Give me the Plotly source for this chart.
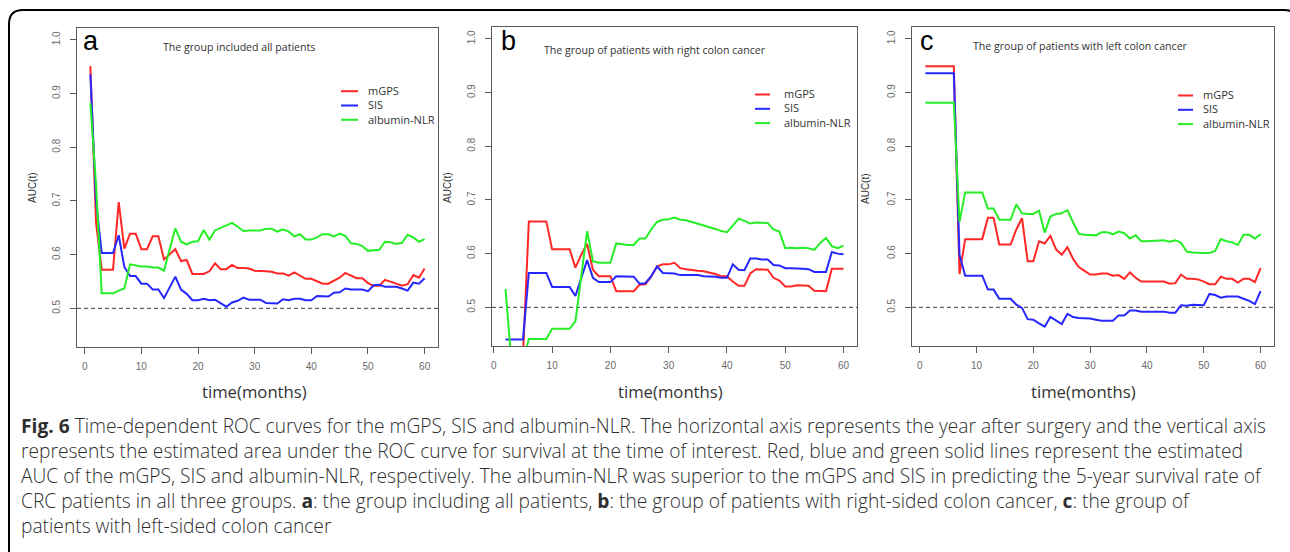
import plotly.graph_objects as go

W, H = 1290, 552

def X(p):
    return p / W

def Y(p):
    return 1 - p / H

# ---------------- data ----------------
months_a = list(range(1, 61))
months_b = list(range(2, 61))
months_c = list(range(1, 61))

a_mgps = [0.951, 0.660, 0.572, 0.572, 0.572, 0.698, 0.611, 0.639, 0.639, 0.610,
          0.610, 0.634, 0.634, 0.591, 0.601, 0.610, 0.588, 0.590, 0.564, 0.564,
          0.564, 0.569, 0.584, 0.573, 0.573, 0.581, 0.575, 0.575, 0.574, 0.570,
          0.570, 0.569, 0.568, 0.565, 0.565, 0.561, 0.567, 0.561, 0.555, 0.555,
          0.551, 0.546, 0.546, 0.551, 0.557, 0.566, 0.561, 0.556, 0.556, 0.547,
          0.542, 0.542, 0.553, 0.550, 0.546, 0.542, 0.545, 0.562, 0.557, 0.574]
a_sis = [0.936, 0.700, 0.603, 0.603, 0.603, 0.636, 0.577, 0.560, 0.560, 0.546,
         0.546, 0.535, 0.535, 0.519, 0.540, 0.559, 0.535, 0.527, 0.515, 0.515,
         0.518, 0.515, 0.516, 0.510, 0.503, 0.511, 0.514, 0.520, 0.516, 0.516,
         0.516, 0.510, 0.509, 0.509, 0.517, 0.515, 0.518, 0.518, 0.515, 0.515,
         0.523, 0.522, 0.522, 0.529, 0.530, 0.537, 0.535, 0.535, 0.535, 0.532,
         0.543, 0.544, 0.540, 0.540, 0.540, 0.537, 0.533, 0.548, 0.546, 0.556]
a_nlr = [0.882, 0.730, 0.528, 0.528, 0.528, 0.533, 0.537, 0.582, 0.580, 0.578,
         0.578, 0.576, 0.576, 0.570, 0.610, 0.649, 0.624, 0.619, 0.624, 0.625,
         0.646, 0.628, 0.645, 0.650, 0.655, 0.659, 0.652, 0.644, 0.645, 0.645,
         0.645, 0.648, 0.648, 0.643, 0.647, 0.643, 0.634, 0.638, 0.628, 0.628,
         0.632, 0.638, 0.638, 0.634, 0.639, 0.635, 0.621, 0.620, 0.616, 0.607,
         0.608, 0.609, 0.624, 0.623, 0.620, 0.622, 0.637, 0.632, 0.624, 0.629]

b_mgps = [0.410, 0.410, 0.410, 0.410, 0.660, 0.660, 0.660, 0.660, 0.608,
          0.608, 0.608, 0.608, 0.574, 0.598, 0.618, 0.570, 0.558, 0.558, 0.558,
          0.530, 0.530, 0.530, 0.530, 0.542, 0.543, 0.557, 0.576, 0.580, 0.580,
          0.583, 0.573, 0.571, 0.569, 0.568, 0.567, 0.565, 0.562, 0.558, 0.558,
          0.548, 0.540, 0.540, 0.563, 0.571, 0.571, 0.570, 0.555, 0.550, 0.539,
          0.539, 0.541, 0.541, 0.540, 0.531, 0.530, 0.530, 0.572, 0.572, 0.572]
b_sis = [0.440, 0.440, 0.440, 0.440, 0.564, 0.564, 0.564, 0.564, 0.538,
         0.538, 0.538, 0.538, 0.521, 0.555, 0.588, 0.555, 0.547, 0.547, 0.547,
         0.558, 0.558, 0.558, 0.557, 0.544, 0.545, 0.558, 0.576, 0.564, 0.564,
         0.563, 0.560, 0.560, 0.560, 0.560, 0.558, 0.558, 0.557, 0.555, 0.555,
         0.580, 0.570, 0.569, 0.591, 0.591, 0.589, 0.589, 0.579, 0.578, 0.573,
         0.573, 0.573, 0.572, 0.571, 0.566, 0.566, 0.566, 0.603, 0.600, 0.599]
b_nlr = [0.534, 0.400, 0.400, 0.400, 0.441, 0.441, 0.441, 0.441, 0.460,
         0.460, 0.460, 0.460, 0.474, 0.560, 0.642, 0.586, 0.583, 0.583, 0.583,
         0.619, 0.617, 0.616, 0.616, 0.628, 0.628, 0.645, 0.659, 0.663, 0.664,
         0.667, 0.663, 0.662, 0.659, 0.656, 0.652, 0.649, 0.646, 0.642, 0.640,
         0.652, 0.665, 0.661, 0.656, 0.658, 0.657, 0.657, 0.645, 0.641, 0.610,
         0.611, 0.610, 0.611, 0.610, 0.607, 0.620, 0.629, 0.614, 0.610, 0.615]

c_mgps = [0.949, 0.949, 0.949, 0.949, 0.949, 0.949, 0.562, 0.627, 0.627, 0.627,
          0.627, 0.667, 0.667, 0.617, 0.617, 0.617, 0.645, 0.666, 0.586, 0.586,
          0.623, 0.619, 0.633, 0.608, 0.598, 0.612, 0.590, 0.575, 0.568, 0.561,
          0.561, 0.563, 0.563, 0.559, 0.560, 0.553, 0.565, 0.555, 0.548, 0.548,
          0.548, 0.547, 0.548, 0.544, 0.545, 0.561, 0.553, 0.553, 0.552, 0.548,
          0.543, 0.543, 0.557, 0.553, 0.553, 0.546, 0.553, 0.553, 0.547, 0.573]
c_sis = [0.936, 0.936, 0.936, 0.936, 0.936, 0.936, 0.598, 0.559, 0.559, 0.559,
         0.559, 0.533, 0.533, 0.516, 0.516, 0.516, 0.505, 0.499, 0.478, 0.477,
         0.470, 0.464, 0.482, 0.476, 0.469, 0.488, 0.482, 0.480, 0.480, 0.479,
         0.477, 0.475, 0.475, 0.475, 0.485, 0.485, 0.494, 0.494, 0.492, 0.492,
         0.491, 0.491, 0.492, 0.490, 0.490, 0.504, 0.503, 0.505, 0.505, 0.504,
         0.525, 0.523, 0.518, 0.520, 0.520, 0.520, 0.516, 0.512, 0.506, 0.530]
c_nlr = [0.881, 0.881, 0.881, 0.881, 0.881, 0.881, 0.659, 0.714, 0.714, 0.714,
         0.714, 0.684, 0.684, 0.663, 0.663, 0.663, 0.692, 0.675, 0.674, 0.674,
         0.680, 0.639, 0.669, 0.674, 0.675, 0.681, 0.658, 0.637, 0.635, 0.634,
         0.634, 0.640, 0.640, 0.636, 0.641, 0.638, 0.628, 0.634, 0.623, 0.623,
         0.624, 0.625, 0.625, 0.622, 0.625, 0.620, 0.604, 0.602, 0.601, 0.601,
         0.601, 0.605, 0.627, 0.623, 0.621, 0.616, 0.635, 0.635, 0.628, 0.636]

series_names = ["mGPS", "SIS", "albumin-NLR"]
series_colors = ["#ff2626", "#2626ff", "#26ee26"]
panel_letters = ["a", "b", "c"]
panel_titles = ["The group included all patients",
                "The group of patients with right colon cancer",
                "The group of patients with left colon cancer"]
x_ticks = [0, 10, 20, 30, 40, 50, 60]
y_ticks = [0.5, 0.6, 0.7, 0.8, 0.9, 1.0]
y_tick_labels = ["0.5", "0.6", "0.7", "0.8", "0.9", "1.0"]
REF_AUC = 0.5
x_title = "time(months)"
y_title = "AUC(t)"

caption_lines = [
    "<b>Fig. 6</b> Time-dependent ROC curves for the mGPS, SIS and albumin-NLR. The horizontal axis represents the year after surgery and the vertical axis",
    "represents the estimated area under the ROC curve for survival at the time of interest. Red, blue and green solid lines represent the estimated",
    "AUC of the mGPS, SIS and albumin-NLR, respectively. The albumin-NLR was superior to the mGPS and SIS in predicting the 5-year survival rate of",
    "CRC patients in all three groups. <b>a</b>: the group including all patients, <b>b</b>: the group of patients with right-sided colon cancer, <b>c</b>: the group of",
    "patients with left-sided colon cancer",
]

panels = [
    (months_a, [a_mgps, a_sis, a_nlr]),
    (months_b, [b_mgps, b_sis, b_nlr]),
    (months_c, [c_mgps, c_sis, c_nlr]),
]

# ---------------- layout geometry (pixels) ----------------
boxes = [  # left, right, top, bottom
    (77, 438, 28, 347),
    (492, 857, 27, 346),
    (912, 1274, 27, 346),
]
x_ranges = [[-1.36, 62.36], [-0.32, 62.32], [-1.36, 62.36]]
y_range = [0.428, 1.022]
letter_pos = [(80.5, 40.5), (498.5, 40.5), (917.5, 40.5)]
title_pos = [(161, 47), (542, 50), (971, 46)]
legend_text_x = [366, 782, 1201]
legend_line_x = [(341, 358), (755, 770), (1178, 1193)]
legend_mid_row = [105.5, 108.8, 109.8]
LEG_FS = 11
LEG_STEP = 1.3 * LEG_FS
ylab_pos = [(33, 188), (448, 188), (866, 188)]
xlab_pos = [(254, 391), (670, 391), (1083, 391)]

fig = go.Figure()

for i, (months, ys) in enumerate(panels):
    sfx = "" if i == 0 else str(i + 1)
    for name, col, vals in zip(series_names, series_colors, ys):
        fig.add_trace(go.Scatter(
            x=months, y=vals, mode="lines", name=name,
            line=dict(color=col, width=2),
            xaxis="x" + sfx, yaxis="y" + sfx,
            showlegend=False, hoverinfo="skip",
        ))

axis_common = dict(
    showline=True, linecolor="#5a5a5a", linewidth=1.2, mirror=True,
    ticks="outside", ticklen=6, tickcolor="#5a5a5a", tickwidth=1,
    showgrid=False, zeroline=False, fixedrange=True,
    tickfont=dict(family="Liberation Sans", size=10, color="#6a6a6a"),
)

layout = dict(
    width=W, height=H, margin=dict(l=0, r=0, t=0, b=0),
    paper_bgcolor="white", plot_bgcolor="white", showlegend=False,
)

shapes = []
annotations = []

for i in range(3):
    sfx = "" if i == 0 else str(i + 1)
    l, r, t, b = boxes[i]
    layout["xaxis" + sfx] = dict(
        axis_common, domain=[X(l), X(r)], range=x_ranges[i],
        tickvals=x_ticks, anchor="y" + sfx, ticklabelstandoff=4,
    )
    layout["yaxis" + sfx] = dict(
        axis_common, domain=[Y(b), Y(t)], range=y_range,
        tickvals=y_ticks, ticktext=y_tick_labels, tickangle=-90,
        anchor="x" + sfx, ticklabelstandoff=6,
    )
    # reference line AUC = 0.5
    shapes.append(dict(
        type="line", xref="x" + sfx + " domain", yref="y" + sfx,
        x0=0, x1=1, y0=REF_AUC, y1=REF_AUC,
        line=dict(color="#3a3a3a", width=1, dash="4px,3px"), layer="below",
    ))
    # panel letter
    lx, ly = letter_pos[i]
    annotations.append(dict(
        text=panel_letters[i], x=X(lx), y=Y(ly), xref="paper", yref="paper",
        xanchor="left", yanchor="middle", showarrow=False,
        font=dict(family="Liberation Sans", size=27, color="black"),
    ))
    # panel title
    tx, ty = title_pos[i]
    annotations.append(dict(
        text=panel_titles[i], x=X(tx), y=Y(ty), xref="paper", yref="paper",
        xanchor="left", yanchor="middle", showarrow=False,
        font=dict(family="Open Sans", size=10.6, color="#333333"),
    ))
    # legend: one text block + line samples
    mid = legend_mid_row[i]
    x0, x1 = legend_line_x[i]
    for j in range(3):
        ry = mid + (j - 1) * LEG_STEP
        shapes.append(dict(
            type="line", xref="paper", yref="paper",
            x0=X(x0), x1=X(x1), y0=Y(ry), y1=Y(ry),
            line=dict(color=series_colors[j], width=2),
        ))
    annotations.append(dict(
        text="<br>".join(series_names), x=X(legend_text_x[i]), y=Y(mid - 0.4),
        xref="paper", yref="paper", xanchor="left", yanchor="middle",
        align="left", showarrow=False,
        font=dict(family="Open Sans", size=LEG_FS, color="#333333"),
    ))
    # axis titles
    ax_, ay_ = ylab_pos[i]
    annotations.append(dict(
        text=y_title, x=X(ax_), y=Y(ay_), xref="paper", yref="paper",
        xanchor="center", yanchor="middle", showarrow=False, textangle=-90,
        font=dict(family="Liberation Sans", size=10, color="#333333"),
    ))
    bx, by = xlab_pos[i]
    annotations.append(dict(
        text=x_title, x=X(bx), y=Y(by), xref="paper", yref="paper",
        xanchor="center", yanchor="middle", showarrow=False,
        font=dict(family="Open Sans", size=16.7, color="#333333"),
    ))

# caption as one text block
annotations.append(dict(
    text="<br>".join(caption_lines), x=X(19), y=Y(475.5), xref="paper", yref="paper",
    xanchor="left", yanchor="middle", align="left", showarrow=False,
    font=dict(family="Open Sans", size=19.2, color="#2e2e2e", weight=300),
))

# outer rounded frame
frame = (f"M {X(9)},{Y(560)} L {X(9)},{Y(24)} Q {X(9)},{Y(10)} {X(23)},{Y(10)} "
         f"L {X(1284)},{Y(10)} Q {X(1298)},{Y(10)} {X(1298)},{Y(24)} L {X(1298)},{Y(560)}")
shapes.append(dict(type="path", xref="paper", yref="paper", path=frame,
                   line=dict(color="black", width=2)))

layout["shapes"] = shapes
layout["annotations"] = annotations
fig.update_layout(**layout)

fig.write_html("out.html")
